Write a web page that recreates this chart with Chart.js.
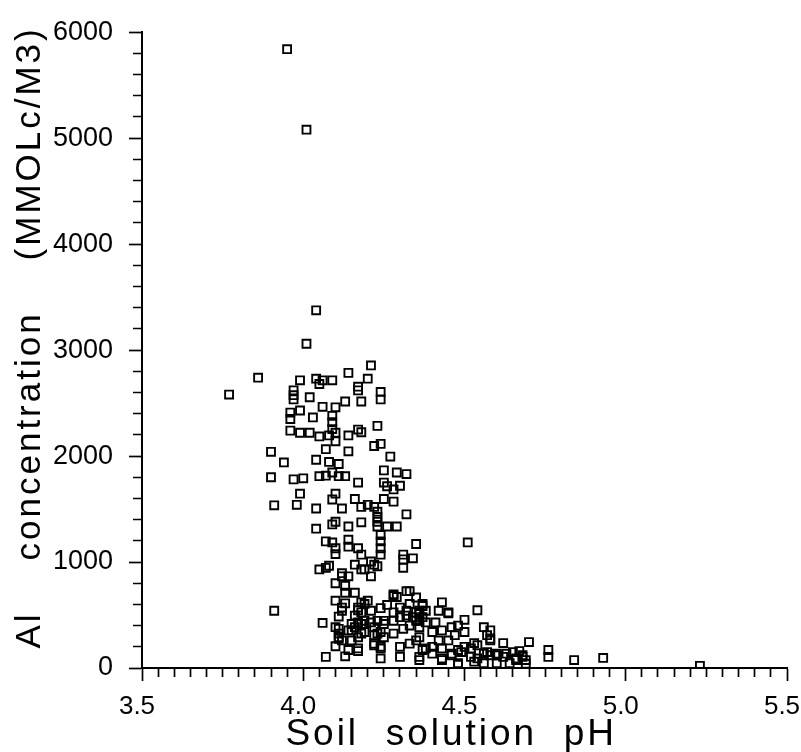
<!doctype html>
<html lang="en">
<head>
<meta charset="utf-8">
<title>Al concentration vs soil solution pH</title>
<script src="https://cdn.jsdelivr.net/npm/chart.js@4.4.0/dist/chart.umd.min.js"></script>
<style>
  html, body { margin: 0; padding: 0; background: #fff; }
  #wrap { width: 801px; height: 752px; }
</style>
</head>
<body>
<div id="wrap"><canvas id="chart"></canvas></div>
<script>
    // soil solution pH of each sample
    const ph = [
        3.95, 4.01, 4.04, 4.01, 4.21, 3.86, 3.77,
        3.99, 4.04, 4.06, 4.05, 4.09, 4.14, 4.20, 4.17, 4.17, 4.24, 4.24,
        3.97, 3.97, 3.97, 4.02, 4.13, 4.18, 4.06, 4.10, 3.99, 3.96, 3.96, 4.03,
        4.09, 4.09, 4.09, 3.96, 3.99, 4.02, 4.05, 4.08, 4.10, 4.14, 4.17, 4.18,
        4.23, 4.22, 4.24, 3.90, 4.07, 4.14, 4.10, 3.94, 4.04, 4.08, 4.11, 4.27,
        3.90, 3.97, 4.00, 4.05, 4.07, 4.09, 4.11, 4.13, 4.17, 4.25, 4.29, 4.32,
        4.25, 4.26, 4.28, 4.30, 3.99, 4.09, 4.10, 4.16, 4.18, 4.25, 4.28, 3.91,
        3.98, 4.04, 4.12, 4.20, 4.22, 4.23, 4.23, 4.23, 4.23, 4.32, 4.04, 4.09,
        4.10, 4.14, 4.18, 4.26, 4.29, 4.24, 4.24, 4.24, 4.24, 4.07, 4.09, 4.14,
        4.14, 4.17, 4.18, 4.10, 4.10, 4.35, 4.51, 4.31, 4.31, 4.31, 4.34, 4.21,
        4.22, 4.19, 4.21, 4.16, 4.05, 4.07, 4.08, 4.12, 4.14, 4.10, 4.13, 4.13,
        4.16, 4.10, 4.13, 4.12, 4.11, 4.19, 4.20, 4.17, 4.21, 4.24, 4.26, 4.29,
        4.28, 4.33, 4.35, 3.91, 4.06, 4.10, 4.11, 4.11, 4.15, 4.17, 4.19, 4.21,
        4.23, 4.25, 4.14, 4.15, 4.18, 4.22, 4.23, 4.24, 4.24, 4.22, 4.15, 4.10,
        4.17, 4.13, 4.07, 4.24, 4.30, 4.28, 4.30, 4.32, 4.34, 4.36, 4.43, 4.45,
        4.54, 4.50, 4.56, 4.58, 4.57, 4.58, 4.58, 4.62, 4.70, 4.76, 4.76, 4.84,
        4.93, 5.23, 4.65, 4.67, 4.68, 4.69, 4.66, 4.64, 4.37, 4.38, 4.42, 4.45,
        4.36, 4.38, 4.41, 4.43, 4.46, 4.48, 4.50, 4.36, 4.40, 4.42, 4.45, 4.47,
        4.38, 4.40, 4.43, 4.46, 4.48, 4.50, 4.52, 4.53, 4.43, 4.48, 4.52, 4.54,
        4.57, 4.60, 4.63, 4.68, 4.69, 4.66, 4.12, 4.18, 4.23, 4.18, 4.17, 4.12,
        4.18, 4.16, 4.28, 4.32, 4.11, 4.11, 4.12,
        4.16, 4.18, 4.25, 4.28, 4.30, 4.32, 4.35, 4.35, 4.37, 4.33, 4.36, 4.31,
        4.28, 4.25, 4.22, 4.19, 4.17, 4.14, 4.17, 4.22, 4.24, 4.30, 4.33, 4.35,
        4.37, 4.36, 4.37, 4.33, 4.36, 4.36, 4.40, 4.43, 4.46, 4.49, 4.48, 4.53,
        4.56, 4.60, 4.54, 4.56, 4.58, 4.60, 4.62
    ];

    // Al concentration (mmolc/m3) of the same samples
    const al = [
        5840, 5080, 3375, 3060, 2855, 2740, 2580,
        2715, 2730, 2715, 2680, 2715, 2785, 2730, 2655, 2620, 2605, 2535,
        2620, 2575, 2535, 2555, 2515, 2515, 2465, 2460, 2430, 2410, 2350, 2365,
        2380, 2320, 2255, 2240, 2220, 2220, 2185, 2195, 2220, 2195, 2250, 2225,
        2285, 2095, 2115, 2040, 2065, 2045, 2140, 1940, 1965, 1945, 1925, 1995,
        1800, 1780, 1790, 1810, 1815, 1845, 1810, 1810, 1750, 1865, 1845, 1830,
        1750, 1715, 1685, 1720, 1645, 1590, 1645, 1595, 1520, 1595, 1570, 1535,
        1540, 1505, 1505, 1540, 1520, 1475, 1425, 1380, 1335, 1450, 1315, 1355,
        1380, 1335, 1375, 1335, 1335, 1255, 1195, 1130, 1070, 1195, 1185, 1210,
        1145, 1130, 1070, 1130, 1075, 1170, 1185, 1070, 1025, 945, 1035, 1005,
        975, 930, 865, 975, 930, 945, 965, 895, 865, 800, 775, 710,
        710, 635, 610, 570, 485, 605, 635, 545, 540, 565, 595, 670,
        680, 725, 665, 540, 425, 385, 325, 275, 415, 430, 445, 430,
        445, 445, 355, 355, 325, 385, 325, 340, 200, 230, 260, 205,
        160, 110, 105, 90, 105, 525, 570, 540, 480, 510, 620, 525,
        545, 455, 385, 355, 310, 275, 260, 235, 245, 170, 105, 75,
        95, 20, 150, 160, 105, 40, 75, 45, 605, 540, 540, 515,
        445, 430, 430, 355, 385, 400, 340, 290, 340, 260, 260, 310,
        185, 200, 185, 135, 170, 200, 185, 235, 90, 45, 105, 90,
        150, 135, 135, 120, 75, 90, 865, 930, 960, 620, 570, 540,
        525, 495, 695, 725, 370, 290, 260,
        385, 415, 415, 445, 480, 495, 525, 445, 480, 400, 385, 370,
        325, 290, 310, 340, 290, 170, 185, 215, 185, 200, 230, 260,
        170, 75, 585, 605, 540, 105, 135, 75, 120, 150, 30, 60,
        45, 45, 215, 135, 120, 120, 105
    ];

    // labelled ticks
    const xLabels = [3.5, 4.0, 4.5, 5.0, 5.5];
    const yLabels = [0, 1000, 2000, 3000, 4000, 5000, 6000];

    const points = ph.map((p, i) => ({x: p, y: al[i]}));
    const fontFamily = "'Liberation Sans', Arial, sans-serif";

    function isLabelled(list, v) {
        return list.some(t => Math.abs(t - v) < 1e-6);
    }

    // spaced lettering for the axis titles only, ticks are drawn after the points
    const spacing = {
        id: 'spacing',
        beforeDraw(chart) { chart.ctx.letterSpacing = '3px'; },
        beforeDatasetsDraw(chart) { chart.ctx.letterSpacing = '0px'; }
    };

    new Chart(document.getElementById('chart'), {
        type: 'scatter',
        data: {
            datasets: [{
                data: points,
                pointStyle: 'rect',
                pointRadius: 5.6,
                pointHoverRadius: 5.6,
                borderWidth: 1.9,
                borderColor: '#000',
                backgroundColor: 'rgba(0,0,0,0)'
            }]
        },
        options: {
            animation: false,
            responsive: true,
            maintainAspectRatio: false,
            events: [],
            layout: {padding: {top: 24, right: 14, left: 0, bottom: 0}},
            plugins: {legend: {display: false}, tooltip: {enabled: false}},
            scales: {
                x: {
                    type: 'linear',
                    position: 'bottom',
                    min: 3.5,
                    max: 5.5,
                    border: {display: true, color: '#000', width: 2},
                    grid: {
                        drawOnChartArea: false,
                        drawTicks: true,
                        tickLength: 13,
                        tickColor: '#000',
                        tickWidth: 1.7,
                        tickBorderDash: (c) => isLabelled(xLabels, c.tick.value) ? [] : [8, 40]
                    },
                    ticks: {
                        stepSize: 0.05,
                        autoSkip: false,
                        maxRotation: 0,
                        minRotation: 0,
                        padding: 10,
                        labelOffset: -5,
                        color: '#000',
                        z: 1,
                        font: {family: fontFamily, size: 26},
                        callback: (v) => isLabelled(xLabels, v) ? v.toFixed(1) : ''
                    },
                    title: {
                        display: true,
                        text: 'Soil  solution  pH  ',
                        color: '#000',
                        font: {family: fontFamily, size: 37},
                        padding: {top: 0, bottom: -5}
                    },
                    afterFit: (s) => {
                        s.height = 84;
                        s.paddingLeft = 0;
                        s.paddingRight = 14;
                    }
                },
                y: {
                    min: 0,
                    max: 6000,
                    border: {display: true, color: '#000', width: 2},
                    grid: {
                        drawOnChartArea: false,
                        drawTicks: true,
                        tickLength: 13,
                        tickColor: '#000',
                        tickWidth: 1.7,
                        tickBorderDash: (c) => isLabelled(yLabels, c.tick.value) ? [] : [0, 4, 8, 40]
                    },
                    ticks: {
                        stepSize: 200,
                        autoSkip: false,
                        padding: 16,
                        color: '#000',
                        z: 1,
                        font: {family: fontFamily, size: 27},
                        callback: (v) => isLabelled(yLabels, v) ? String(v) : ''
                    },
                    title: {
                        display: true,
                        text: '  Al    concentration    (MMOLc/M3)',
                        color: '#000',
                        font: {family: fontFamily, size: 35},
                        padding: {top: 9, bottom: 0}
                    },
                    afterFit: (s) => {
                        s.width = 142;
                    }
                }
            }
        },
        plugins: [spacing]
    });
</script>
</body>
</html>
